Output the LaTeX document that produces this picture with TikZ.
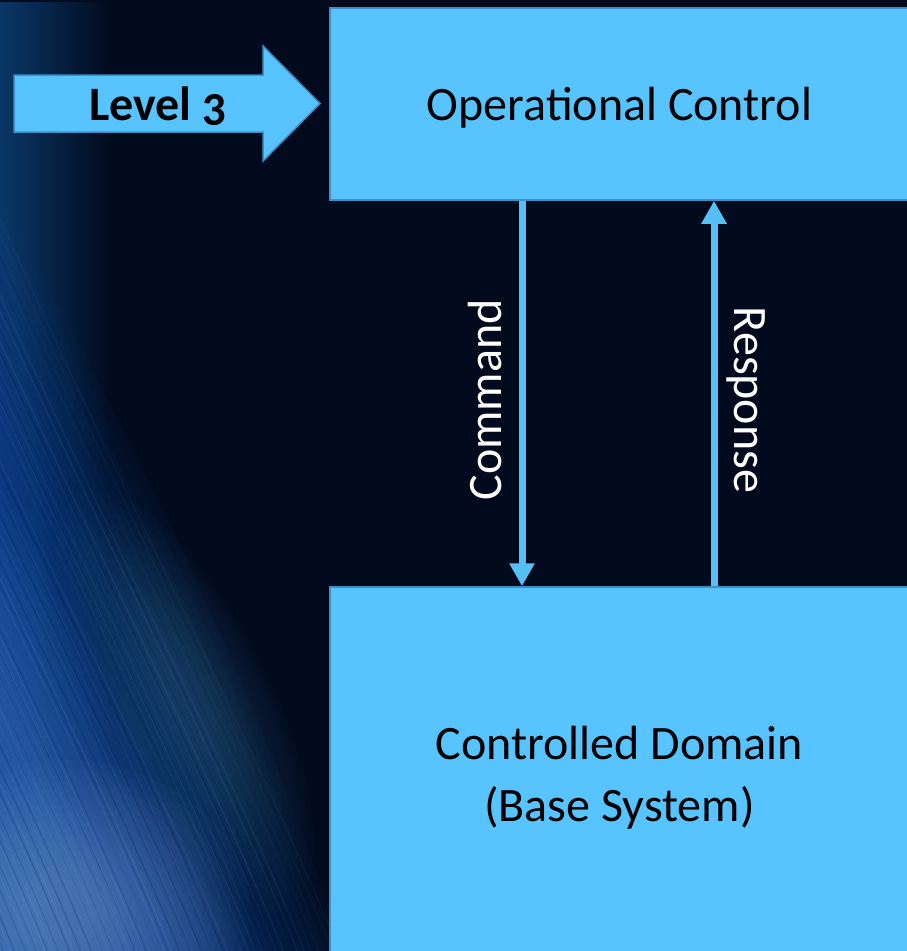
\documentclass[tikz,border=0pt]{standalone}
\usepackage{fontspec}
\setmainfont{Carlito}[Numbers=OldStyle]
\usetikzlibrary{arrows.meta,fadings}

\definecolor{bgdark}{HTML}{020B1D}
\definecolor{hazeblue}{HTML}{0B3868}
\definecolor{sweepblue}{HTML}{1448A0}
\definecolor{sweeplight}{HTML}{4F82D2}
\definecolor{glowteal}{HTML}{4A86B0}
\definecolor{glowlight}{HTML}{8AB4EE}
\definecolor{streakblue}{HTML}{9CC2FF}
\definecolor{streakdark}{HTML}{031432}
\definecolor{boxfill}{HTML}{57C3FF}
\definecolor{boxline}{HTML}{3E8FC6}
\definecolor{linkblue}{HTML}{56BFF6}

\tikzfading[name=fadetoright, left color=transparent!0, right color=transparent!100]

\begin{document}
\begin{tikzpicture}[x=1pt,y=-1pt,
  blockbox/.style={draw=boxline, line width=1.5pt, fill=boxfill, rectangle,
    inner sep=0pt, align=center, text=black, font=\fontsize{48}{62}\selectfont},
  flow/.style={draw=linkblue, line width=7pt, -{Triangle[width=24pt,length=23pt]}},
  flowlabel/.style={text=white, inner sep=0pt, anchor=base, font=\fontsize{48}{58}\selectfont},
  streak/.style={draw=streakblue, line width=0.8pt},
]
\useasboundingbox (0,0) rectangle (907,951);
\clip (0,0) rectangle (907,951);

% ---- backdrop: dark field with a soft blue light sweep on the left ----
\fill[bgdark] (0,0) rectangle (907,951);
\fill[hazeblue, path fading=fadetoright] (0,0) rectangle (110,951);
% body of the sweep, soft edge from stacked translucent copies
\foreach \k in {0,...,15}{
  \fill[sweepblue, opacity=0.055, xshift=-\k*11pt]
    (-10,190) .. controls (150,450) and (280,760) .. (345,951) -- (-200,951) -- (-200,190) -- cycle;
}
% brighter inner band
\foreach \k in {0,...,13}{
  \fill[sweeplight, opacity=0.045, xshift=-\k*10pt]
    (-10,470) .. controls (100,650) and (200,830) .. (262,951) -- (-200,951) -- (-200,470) -- cycle;
}
% teal glow along the sweep
\foreach \r in {1.0,0.95,...,0.15}{
  \fill[glowteal, opacity=0.025, rotate around={27:(185,700)}]
    (185,700) ellipse [x radius=\r*85, y radius=\r*230];
}
% pale glow in the lower left corner
\foreach \r in {1.0,0.95,...,0.15}{
  \fill[glowlight, opacity=0.028]
    (60,910) ellipse [x radius=\r*190, y radius=\r*150];
}
% fine streaks following the sweep
\pgfmathsetseed{7}
\foreach \s in {-420,-413,...,345}{
  \pgfmathsetmacro\op{0.03+0.10*rnd}
  \draw[streak, opacity=\op]
    (\s,960) .. controls (\s-80,760) and (\s-210,520) .. (\s-360,180);
}
\foreach \s in {-400,-389,...,330}{
  \pgfmathsetmacro\op{0.10+0.20*rnd}
  \draw[draw=streakdark, line width=1pt, opacity=\op]
    (\s,960) .. controls (\s-80,760) and (\s-210,520) .. (\s-360,180);
}

% ---- level arrow ----
\draw[draw=boxline, line width=1.5pt, fill=boxfill]
  (14,75) -- (263,75) -- (263,46) -- (320,103.5) -- (263,161) -- (263,132) -- (14,132) -- cycle;
\node[inner sep=0pt, anchor=base, font=\bfseries\fontsize{48}{58}\selectfont] (lvl) at (158,120) {Level 3};

% ---- blocks ----
\node[blockbox, minimum width=579pt, minimum height=192pt, text height=32pt, text depth=0pt]
  (opc) at (619.5,104) {Operational Control};
\node[blockbox, minimum width=579pt, minimum height=374pt, text height=94pt, text depth=0pt]
  (dom) at (619.5,774) {Controlled Domain\\(Base System)};

% ---- command / response links ----
\coordinate (cmdx) at (522,0);
\coordinate (rspx) at (714,0);
\draw[flow] (opc.south -| cmdx) -- (dom.north -| cmdx);
\draw[flow] (dom.north -| rspx) -- (opc.south -| rspx);
\node[flowlabel, rotate=90] (cmd) at (501,400) {Command};
\node[flowlabel, rotate=-90] (rsp) at (734,400) {Response};
\end{tikzpicture}
\end{document}
